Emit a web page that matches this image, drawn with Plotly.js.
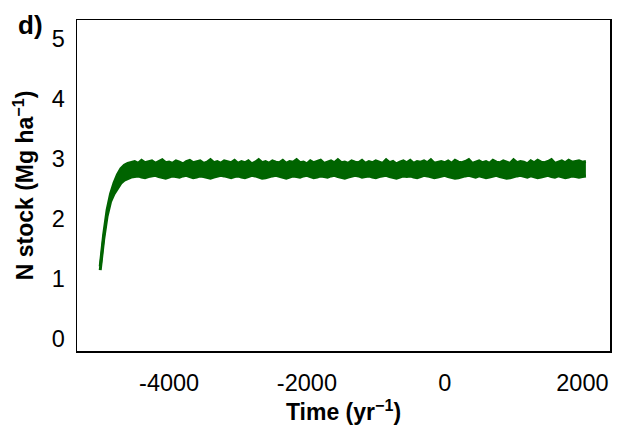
<!DOCTYPE html>
<html>
<head>
<meta charset="utf-8">
<script src="https://cdn.plot.ly/plotly-3.0.1.min.js"></script>
<style>html,body{margin:0;padding:0;background:#fff;}#chart{width:626px;height:429px;}</style>
</head>
<body>
<div id="chart"></div>
<script>
// Time axis: first year and step between readings (years)
const startYear = -5000;
const stepYears = 50;
// Upper edge of the N stock band (Mg ha^-1), one reading every 50 years
const nStockUpper = [
  1.21, 1.74, 2.15, 2.42, 2.60, 2.74, 2.84, 2.90, 2.93,
  2.94, 2.96, 2.93, 2.98, 2.94, 2.95, 2.97, 2.93, 2.96, 2.99,
  2.94, 2.95, 2.93, 2.97, 2.95, 2.92, 2.96, 2.98, 2.94, 2.95,
  2.97, 2.93, 2.95, 2.99, 2.94, 2.96, 2.93, 2.97, 2.95, 2.94,
  2.98, 2.93, 2.96, 2.94, 2.97, 2.92, 2.95, 2.99, 2.94, 2.96,
  2.93, 2.97, 2.95, 2.94, 2.98, 2.93, 2.96, 2.95, 2.99, 2.94,
  2.95, 2.92, 2.97, 2.94, 2.96, 2.98, 2.93, 2.95, 2.97, 2.94,
  2.99, 2.94, 2.95, 2.93, 2.97, 2.95, 2.94, 2.98, 2.93, 2.96,
  2.94, 2.97, 2.95, 2.93, 2.99, 2.94, 2.96, 2.92, 2.95, 2.97,
  2.94, 2.98, 2.93, 2.96, 2.95, 2.97, 2.94, 2.99, 2.93, 2.95,
  2.96, 2.94, 2.97, 2.93, 2.98, 2.95, 2.94, 2.96, 2.99, 2.93,
  2.95, 2.97, 2.94, 2.96, 2.93, 2.98, 2.95, 2.94, 2.97, 2.95,
  2.93, 2.99, 2.94, 2.96, 2.95, 2.92, 2.97, 2.94, 2.98, 2.95,
  2.94, 2.96, 2.99, 2.93, 2.95, 2.97, 2.94, 2.98, 2.95, 2.96,
  2.97, 2.95, 2.96
];
// Lower edge of the N stock band (Mg ha^-1), same years
const nStockLower = [
  1.15, 1.66, 2.05, 2.29, 2.42, 2.52, 2.60, 2.65, 2.68,
  2.70, 2.71, 2.72, 2.70, 2.69, 2.71, 2.72, 2.73, 2.71, 2.69,
  2.68, 2.70, 2.72, 2.71, 2.70, 2.72, 2.73, 2.71, 2.69, 2.70,
  2.72, 2.71, 2.69, 2.68, 2.70, 2.72, 2.73, 2.72, 2.70, 2.69,
  2.71, 2.72, 2.70, 2.69, 2.71, 2.73, 2.72, 2.70, 2.68, 2.69,
  2.71, 2.72, 2.73, 2.71, 2.70, 2.68, 2.70, 2.72, 2.71, 2.70,
  2.72, 2.73, 2.71, 2.69, 2.70, 2.72, 2.71, 2.70, 2.72, 2.73,
  2.71, 2.69, 2.68, 2.70, 2.72, 2.73, 2.72, 2.70, 2.71, 2.72,
  2.70, 2.69, 2.71, 2.72, 2.73, 2.71, 2.70, 2.68, 2.70, 2.72,
  2.71, 2.72, 2.70, 2.69, 2.71, 2.73, 2.72, 2.71, 2.69, 2.70,
  2.72, 2.73, 2.71, 2.70, 2.68, 2.69, 2.71, 2.72, 2.73, 2.71,
  2.70, 2.72, 2.71, 2.69, 2.70, 2.72, 2.73, 2.71, 2.70, 2.68,
  2.69, 2.71, 2.72, 2.73, 2.71, 2.70, 2.72, 2.71, 2.69, 2.70,
  2.72, 2.73, 2.71, 2.70, 2.72, 2.71, 2.69, 2.70, 2.72, 2.71,
  2.70, 2.71, 2.72
];
const xTicks = [-4000, -2000, 0, 2000];
const xTickText = ['-4000', '-2000', '0', '2000'];
const yTicks = [0, 1, 2, 3, 4, 5];
const yTickText = ['0', '1', '2', '3', '4', '5'];
const panelLabel = 'd)';

const font = 'Liberation Sans, Arial, sans-serif';
const green = '#006400';

const lowerTrace = {
  type: 'scatter',
  mode: 'lines',
  x0: startYear,
  dx: stepYears,
  y: nStockLower,
  line: {color: green, width: 3},
  hoverinfo: 'skip'
};
const upperTrace = {
  type: 'scatter',
  mode: 'lines',
  x0: startYear,
  dx: stepYears,
  y: nStockUpper,
  fill: 'tonexty',
  fillcolor: green,
  line: {color: green, width: 3},
  hoverinfo: 'skip'
};

const layout = {
  width: 626,
  height: 429,
  margin: {l: 77, r: 16, t: 20, b: 78},
  paper_bgcolor: '#ffffff',
  plot_bgcolor: '#ffffff',
  showlegend: false,
  font: {family: font, color: '#000', size: 23},
  xaxis: {
    range: [-5337, 2400],
    tickvals: xTicks,
    ticktext: xTickText,
    showgrid: false,
    zeroline: false,
    showline: true,
    mirror: true,
    linecolor: '#000',
    linewidth: 1.5,
    ticks: 'outside',
    ticklen: 10,
    tickcolor: 'rgba(0,0,0,0)',
    tickfont: {family: font, size: 23.5, color: '#000'},
    title: {text: '<b>Time (yr<sup>−1</sup>)</b>', font: {family: font, size: 23, color: '#000'}, standoff: 7}
  },
  yaxis: {
    range: [-0.2, 5.32],
    tickvals: yTicks,
    ticktext: yTickText,
    showgrid: false,
    zeroline: false,
    showline: true,
    mirror: true,
    linecolor: '#000',
    linewidth: 1.5,
    ticks: 'outside',
    ticklen: 6,
    tickcolor: 'rgba(0,0,0,0)',
    tickfont: {family: font, size: 23.5, color: '#000'},
    title: {text: '<b>N stock (Mg ha<sup>−1</sup>)</b>', font: {family: font, size: 23, color: '#000'}, standoff: 11}
  },
  annotations: [{
    text: '<b>' + panelLabel + '</b>',
    xref: 'paper', yref: 'paper',
    x: -0.115, y: 1.035,
    xanchor: 'left', yanchor: 'top',
    showarrow: false,
    font: {family: font, size: 26, color: '#000'}
  }]
};

Plotly.newPlot('chart', [lowerTrace, upperTrace], layout, {staticPlot: true, displayModeBar: false});
</script>
</body>
</html>
